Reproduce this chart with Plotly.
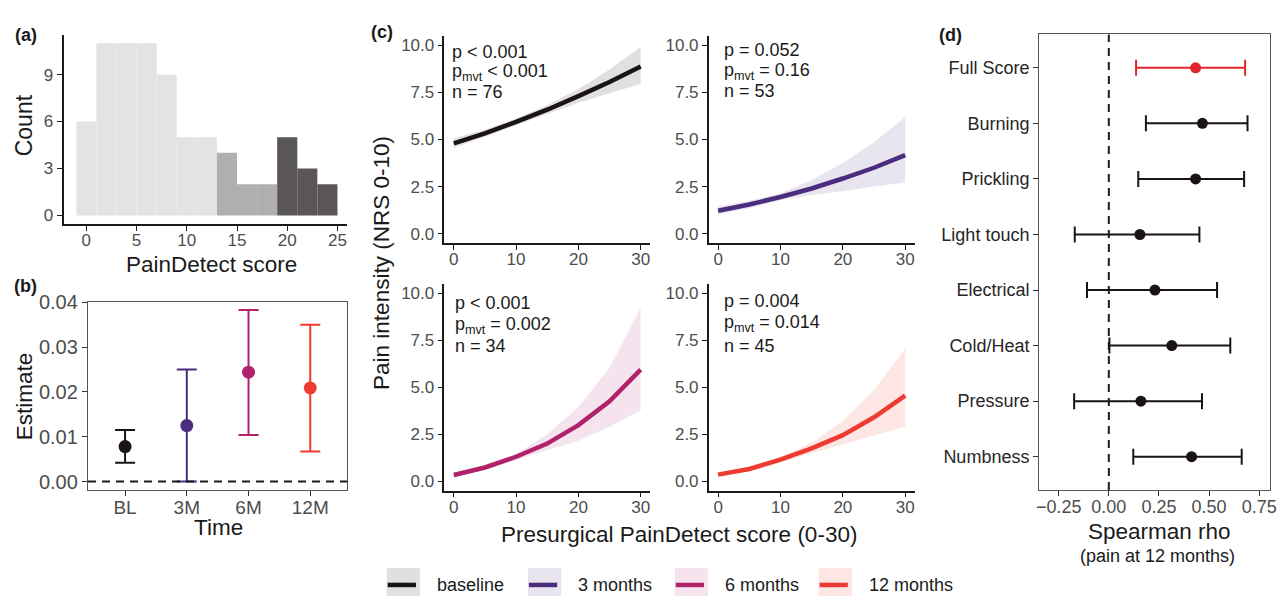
import plotly.graph_objects as go

W, H = 1285, 598
FONT = "Liberation Sans, Arial, sans-serif"


def fx(x):
    return x / W


def fy(y):
    return 1 - y / H


# ---------------- data ----------------
# (a) histogram of PainDetect scores (bin width 2)
bin_centers = [0, 2, 4, 6, 8, 10, 12, 14, 16, 18, 20, 22, 24]
bin_counts = [6, 11, 11, 11, 9, 5, 5, 4, 2, 2, 5, 3, 2]
bin_group = ["low"] * 7 + ["mid"] * 3 + ["high"] * 3
group_colors = {"low": "#e3e3e3", "mid": "#afafaf", "high": "#5a5557"}

# (b) estimates by time point
times = ["BL", "3M", "6M", "12M"]
est = [0.0078, 0.0125, 0.0244, 0.0209]
est_lo = [0.0042, 0.0000, 0.0104, 0.0067]
est_hi = [0.0115, 0.0250, 0.0383, 0.0350]

# (c) predicted pain intensity vs presurgical PainDetect score
series_names = ["baseline", "3 months", "6 months", "12 months"]
series_colors = ["#1a1414", "#4b2c7e", "#b0236b", "#ee3b32"]
series_fills = ["rgba(0,0,0,0.12)", "rgba(75,44,126,0.12)",
                "rgba(176,35,107,0.12)", "rgba(238,59,50,0.13)"]
pd_score = [0, 5, 10, 15, 20, 25, 30]
fit_baseline = [4.80, 5.33, 5.93, 6.58, 7.30, 8.05, 8.87]
lo_baseline = [4.55, 5.15, 5.75, 6.35, 6.95, 7.45, 7.95]
hi_baseline = [5.08, 5.52, 6.12, 6.82, 7.68, 8.72, 9.92]
fit_3m = [1.22, 1.55, 1.95, 2.40, 2.93, 3.50, 4.17]
lo_3m = [1.02, 1.35, 1.78, 2.05, 2.25, 2.50, 2.72]
hi_3m = [1.45, 1.75, 2.15, 2.85, 3.75, 4.85, 6.20]
fit_6m = [0.33, 0.73, 1.30, 2.00, 2.98, 4.25, 5.93]
lo_6m = [0.22, 0.62, 1.15, 1.65, 2.15, 2.90, 3.76]
hi_6m = [0.45, 0.85, 1.45, 2.50, 3.95, 6.05, 9.22]
fit_12m = [0.35, 0.65, 1.15, 1.75, 2.45, 3.40, 4.55]
lo_12m = [0.25, 0.55, 1.00, 1.50, 1.95, 2.45, 2.88]
hi_12m = [0.47, 0.78, 1.30, 2.05, 3.20, 4.85, 7.05]
stat_p = ["p &lt; 0.001", "p = 0.052", "p &lt; 0.001", "p = 0.004"]
stat_pmvt = ["&lt; 0.001", "= 0.16", "= 0.002", "= 0.014"]
stat_n = [76, 53, 34, 45]

# (d) Spearman correlations with pain at 12 months
items = ["Full Score", "Burning", "Prickling", "Light touch",
         "Electrical", "Cold/Heat", "Pressure", "Numbness"]
rho = [0.433, 0.467, 0.433, 0.155, 0.230, 0.314, 0.160, 0.413]
rho_lo = [0.136, 0.185, 0.147, -0.170, -0.109, 0.003, -0.173, 0.122]
rho_hi = [0.680, 0.692, 0.675, 0.452, 0.540, 0.606, 0.465, 0.663]

fits = [fit_baseline, fit_3m, fit_6m, fit_12m]
los = [lo_baseline, lo_3m, lo_6m, lo_12m]
his = [hi_baseline, hi_3m, hi_6m, hi_12m]

fig = go.Figure()

# ---------------- (a) ----------------
fig.add_trace(go.Bar(
    x=bin_centers, y=bin_counts, width=[2] * len(bin_centers),
    marker=dict(color=[group_colors[g] for g in bin_group], line=dict(width=0)),
    xaxis="x", yaxis="y", showlegend=False, hoverinfo="x+y"))

# ---------------- (b) ----------------
for i, t in enumerate(times):
    fig.add_trace(go.Scatter(
        x=[t], y=[est[i]], mode="markers",
        marker=dict(size=13, color=series_colors[i]),
        error_y=dict(type="data", symmetric=False,
                     array=[est_hi[i] - est[i]], arrayminus=[est[i] - est_lo[i]],
                     color=series_colors[i], thickness=2, width=10),
        xaxis="x2", yaxis="y2", showlegend=False))

# ---------------- (c) ----------------
c_axes = [("x3", "y3"), ("x4", "y4"), ("x5", "y5"), ("x6", "y6")]
for i in range(4):
    xa, ya = c_axes[i]
    fig.add_trace(go.Scatter(
        x=pd_score + pd_score[::-1], y=his[i] + los[i][::-1],
        fill="toself", fillcolor=series_fills[i], line=dict(width=0),
        mode="lines", hoverinfo="skip", xaxis=xa, yaxis=ya, showlegend=False))
    fig.add_trace(go.Scatter(
        x=pd_score, y=fits[i], mode="lines", name=series_names[i],
        line=dict(color=series_colors[i], width=4.5),
        xaxis=xa, yaxis=ya, showlegend=False))

# ---------------- (d) ----------------
d_colors = ["#e3262b"] + ["#1a1414"] * (len(items) - 1)
for i, it in enumerate(items):
    fig.add_trace(go.Scatter(
        x=[rho[i]], y=[it], mode="markers",
        marker=dict(size=11, color=d_colors[i]),
        error_x=dict(type="data", symmetric=False,
                     array=[rho_hi[i] - rho[i]], arrayminus=[rho[i] - rho_lo[i]],
                     color=d_colors[i], thickness=2, width=8),
        xaxis="x7", yaxis="y7", showlegend=False))

# ---------------- axes ----------------
tickfont = dict(size=17, color="#4d4d4d", family=FONT)
classic = dict(showline=True, linecolor="#1a1a1a", linewidth=1.6, mirror=False,
               ticks="outside", ticklen=5, tickwidth=1.4, tickcolor="#1a1a1a",
               showgrid=False, zeroline=False, tickfont=tickfont)
boxed = dict(showline=True, linecolor="#555555", linewidth=1.3, mirror=True,
             ticks="outside", ticklen=5, tickwidth=1.3, tickcolor="#333333",
             showgrid=False, zeroline=False, tickfont=tickfont)
XOFF = dict(ticklabelstandoff=-5)

col1 = [fx(444.9), fx(652.1)]
col2 = [fx(711.3), fx(918.7)]
row1 = [fy(237.3), fy(25.4)]
row2 = [fy(490.3), fy(278.7)]
c_x = dict(range=[-1.5, 31.5], tickvals=[0, 10, 20, 30], **classic, **XOFF)
c_y = dict(range=[-0.5, 10.5], tickvals=[0, 2.5, 5, 7.5, 10], tickformat=".1f", **classic)
bfont = dict(size=20, color="#4d4d4d", family=FONT)

fig.update_layout(
    width=W, height=598,
    margin=dict(l=0, r=0, t=0, b=0),
    paper_bgcolor="white", plot_bgcolor="rgba(0,0,0,0)",
    font=dict(family=FONT, color="#1a1a1a"),
    showlegend=False,
    xaxis=dict(domain=[fx(61), fx(346.7)], range=[-2.27, 25.95],
               tickvals=[0, 5, 10, 15, 20, 25], anchor="y", **classic, **XOFF),
    yaxis=dict(domain=[fy(217.8), fy(24.2)], range=[-0.55, 11.55],
               tickvals=[0, 3, 6, 9], anchor="x", **classic),
    xaxis2=dict(domain=[fx(85.7), fx(347)], type="category", range=[-0.6, 3.6],
                categoryorder="array", categoryarray=times, anchor="y2",
                **{**boxed, "tickfont": dict(size=19, color="#4d4d4d", family=FONT)}, **XOFF),
    yaxis2=dict(domain=[fy(490), fy(297.3)], range=[-0.00196, 0.0401],
                tickvals=[0, 0.01, 0.02, 0.03, 0.04], tickformat=".2f",
                anchor="x2", **{**boxed, "tickfont": bfont}),
    xaxis3=dict(domain=col1, anchor="y3", **c_x),
    yaxis3=dict(domain=row1, anchor="x3", **c_y),
    xaxis4=dict(domain=col2, anchor="y4", **c_x),
    yaxis4=dict(domain=row1, anchor="x4", **c_y),
    xaxis5=dict(domain=col1, anchor="y5", **c_x),
    yaxis5=dict(domain=row2, anchor="x5", **c_y),
    xaxis6=dict(domain=col2, anchor="y6", **c_x),
    yaxis6=dict(domain=row2, anchor="x6", **c_y),
    xaxis7=dict(domain=[fx(1044.3), fx(1276.7)], range=[-0.3475, 0.803],
                tickvals=[-0.25, 0, 0.25, 0.5, 0.75], tickformat=".2f",
                anchor="y7", **{**boxed, "tickfont": dict(size=18, color="#4d4d4d", family=FONT)}, **XOFF),
    yaxis7=dict(domain=[fy(489.7), fy(24)], type="category", range=[7.6, -0.6],
                categoryorder="array", categoryarray=items, anchor="x7",
                **{**boxed, "tickfont": dict(size=18, color="#262626", family=FONT)}),
)

# reference lines
fig.add_shape(type="line", xref="x2 domain", yref="y2", x0=0, x1=1, y0=0, y1=0,
              line=dict(color="#1a1a1a", width=2, dash="8px,6px"))
fig.add_shape(type="line", xref="x7", yref="y7 domain", x0=0, x1=0, y0=0, y1=1,
              line=dict(color="#1a1a1a", width=2, dash="8px,6px"))

ann = []


def text(x, y, s, size=17, color="#1a1a1a", xanchor="center", angle=0, bold=False):
    ann.append(dict(x=fx(x), y=fy(y), xref="paper", yref="paper", text=("<b>%s</b>" % s) if bold else s,
                    showarrow=False, xanchor=xanchor, yanchor="middle", textangle=angle,
                    font=dict(size=size, color=color, family=FONT)))


# panel labels
text(23, 25, "(a)", 18, bold=True)
text(23, 281, "(b)", 18, bold=True)
text(382, 21, "(c)", 18, bold=True)
text(955, 25, "(d)", 18, bold=True)

# axis titles
text(22, 117, "Count", 23, angle=-90)
text(210, 259, "PainDetect score", 22.5)
text(22, 394, "Estimate", 22.5, angle=-90)
text(216.7, 528, "Time", 22.5)
text(382, 257.5, "Pain intensity (NRS 0-10)", 22.5, angle=-90)
text(681.5, 535, "Presurgical PainDetect score (0-30)", 22.5)
text(1165.5, 532, "Spearman rho", 22.5)
text(1164, 557, "(pain at 12 months)", 18)

# stats annotations in (c)
stat_x = [451, 725, 454, 725]
stat_y = [[42, 62.5, 83], [39.5, 61.5, 81.5], [298.5, 321, 342], [296, 319, 342.5]]
for i in range(4):
    text(stat_x[i], stat_y[i][0], stat_p[i], 18, xanchor="left")
    text(stat_x[i], stat_y[i][1], "p<sub>mvt</sub> " + stat_pmvt[i], 18, xanchor="left")
    text(stat_x[i], stat_y[i][2], "n = %d" % stat_n[i], 18, xanchor="left")

# legend (manual keys)
key_left = [386.7, 529, 677, 822]
for i, name in enumerate(series_names):
    x0 = key_left[i]
    fig.add_shape(type="rect", xref="paper", yref="paper",
                  x0=fx(x0), x1=fx(x0 + 33.5), y0=fy(598), y1=fy(569.5),
                  fillcolor=series_fills[i], line=dict(width=0))
    fig.add_shape(type="line", xref="paper", yref="paper",
                  x0=fx(x0 + 1), x1=fx(x0 + 29.5), y0=fy(586.7), y1=fy(586.7),
                  line=dict(color=series_colors[i], width=4.5))
    text(x0 + 48.5, 587, name, 18, xanchor="left")

fig.update_layout(annotations=ann)
fig.write_html("out.html")
